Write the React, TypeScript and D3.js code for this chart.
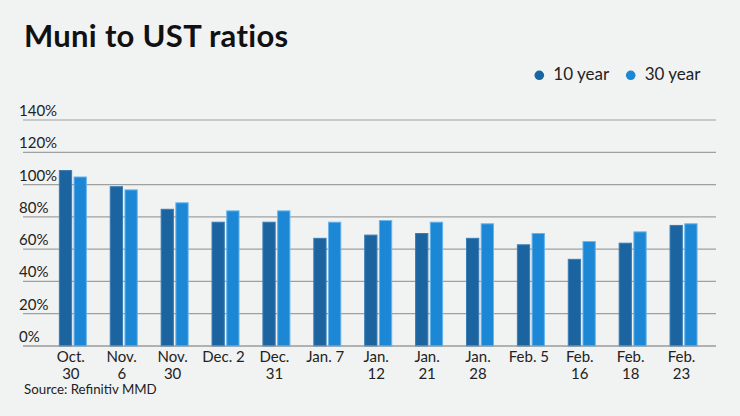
import React from "react";
import * as d3 from "d3";

const categories: string[][] = [
  ["Oct.", "30"], ["Nov.", "6"], ["Nov.", "30"], ["Dec. 2"], ["Dec.", "31"],
  ["Jan. 7"], ["Jan.", "12"], ["Jan.", "21"], ["Jan.", "28"], ["Feb. 5"],
  ["Feb.", "16"], ["Feb.", "18"], ["Feb.", "23"],
];
const tenYear = [109, 99, 85, 77, 77, 67, 69, 70, 67, 63, 54, 64, 75];
const thirtyYear = [105, 97, 89, 84, 84, 77, 78, 77, 76, 70, 65, 71, 76];
const seriesNames = ["10 year", "30 year"];
const seriesColors = ["#1c64a0", "#1c87d4"];
const seriesStroke = ["#3a7cb4", "#66b3ec"];
const yTicks = [0, 20, 40, 60, 80, 100, 120, 140];

const W = 740;
const H = 416;
const FONT = "Lato, 'Open Sans', sans-serif";

export default function App() {
  const keys = categories.map((c) => c.join(" "));
  const y = d3.scaleLinear().domain([0, 140]).range([346, 120]);
  const x0 = d3.scaleBand<string>().domain(keys).range([47.4, 709]).paddingInner(0.45).paddingOuter(0.225);
  const x1 = d3.scaleBand<string>().domain(seriesNames).range([0, x0.bandwidth()]).paddingInner(0.1);
  const values = [tenYear, thirtyYear];

  return (
    <div style={{ position: "fixed", left: 0, top: 0, width: W, height: H }}>
      <svg width={W} height={H} style={{ display: "block", background: "#f1f2f2" }} fontFamily={FONT}>
        <rect x={0} y={0} width={W} height={H} fill="#f1f2f2" />
        <text x={24} y={47} fontSize={31} fontWeight={700} letterSpacing={0.3} fill="#111">Muni to UST ratios</text>

        {seriesNames.map((s, i) => {
          const cx = [539.3, 630.7][i];
          return (
            <g key={s}>
              <circle cx={cx} cy={75.3} r={4.8} fill={seriesColors[i]} />
              <text x={cx + 14} y={80.3} fontSize={17} fill="#222">{s}</text>
            </g>
          );
        })}

        {yTicks.map((t) => (
          <g key={t}>
            <line x1={23} x2={716} y1={y(t)} y2={y(t)} stroke="#a0a0a0" strokeWidth={1.2} />
            <text x={19} y={y(t) - 4} fontSize={15} fill="#222">{t}%</text>
          </g>
        ))}

        {keys.map((k, ci) => (
          <g key={k} transform={`translate(${x0(k)},0)`}>
            {seriesNames.map((s, si) => {
              const v = values[si][ci];
              return (
                <rect
                  key={s}
                  x={x1(s)! + 0.5}
                  y={y(v) + 0.5}
                  width={x1.bandwidth() - 1}
                  height={y(0) - y(v) - 0.5}
                  fill={seriesColors[si]}
                  stroke={seriesStroke[si]}
                  strokeWidth={1}
                />
              );
            })}
          </g>
        ))}
        <line x1={23} x2={716} y1={y(0)} y2={y(0)} stroke="#9a9a9a" strokeWidth={1.2} />

        {categories.map((c, ci) => {
          const cx = x0(keys[ci])! + x0.bandwidth() / 2 - 2;
          return (
            <text key={ci} x={cx} textAnchor="middle" fontSize={15} fill="#222">
              {c.map((line, li) => (
                <tspan key={li} x={cx} y={362 + li * 16.5}>{line}</tspan>
              ))}
            </text>
          );
        })}

        <text x={24} y={394} fontSize={13.3} fill="#222">Source: Refinitiv MMD</text>
      </svg>
    </div>
  );
}
